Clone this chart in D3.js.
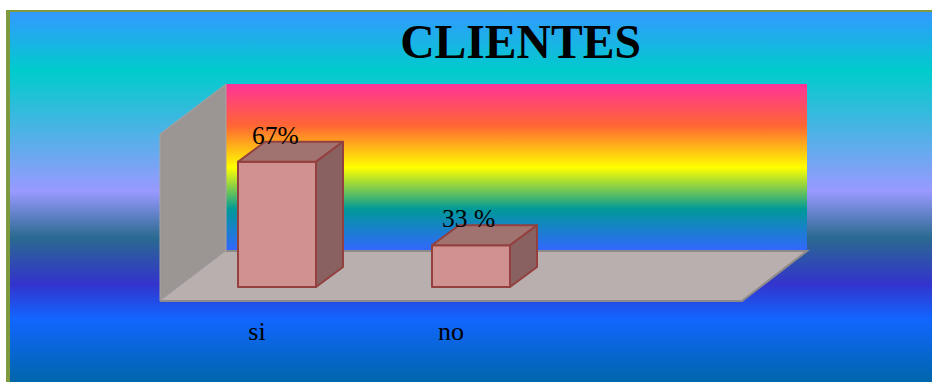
<!DOCTYPE html>
<html><head><meta charset="utf-8">
<script src="https://cdn.jsdelivr.net/npm/d3@7"></script>
<style>html,body{margin:0;padding:0;background:#fff;overflow:hidden}svg{display:block}text{font-family:"Liberation Serif",serif;fill:#000}</style>
</head><body><svg id="c" width="932" height="382"></svg>
<script>
const title = "CLIENTES";
const categories = ["si", "no", ""];
const values = [3, 1, null];
const dataLabels = ["67%", "33 %", ""];
const yDomain = [0, 4];
const bgStops = [[0,"#3399ff"],[0.16,"#00cccc"],[0.485,"#9999ff"],[0.61,"#2a6a90"],[0.735,"#3333cc"],[0.83,"#1166ff"],[1,"#0066aa"]];
const wallStops = [[0,"#ff3399"],[0.25,"#ff6633"],[0.5,"#ffff00"],[0.75,"#009999"],[1,"#3366ff"]];

const W = 932, H = 382;
const svg = d3.select("#c");
const defs = svg.append("defs");
function grad(id, stops){
  const g = defs.append("linearGradient").attr("id", id).attr("x1",0).attr("y1",0).attr("x2",0).attr("y2",1);
  stops.forEach(s => g.append("stop").attr("offset", s[0]).attr("stop-color", s[1]));
}
grad("bg", bgStops); grad("wall", wallStops);

// frame
svg.append("rect").attr("x",6).attr("y",10).attr("width",W-6).attr("height",H-10).attr("fill","#7f9a3c");
svg.append("rect").attr("x",10).attr("y",12).attr("width",W-10).attr("height",H-12).attr("fill","url(#bg)");

svg.append("text").attr("x",520.5).attr("y",58).attr("text-anchor","middle")
  .attr("font-size",47.6).attr("font-weight","bold").text(title);

// plot geometry (front plane, with a 3D depth offset)
const x = d3.scaleBand().domain(categories).range([160, 742]);
const y = d3.scaleLinear().domain(yDomain).range([301, 134]);
const dx = 66, dy = -50;          // depth of the plot box
const bx = 20, by = -14;          // front face of the bars sits inside the box
const bw = 78, bdx = 27, bdy = -20; // bar width and depth
const labelDx = [14, 10];         // data labels were placed by hand
const line = d3.line();
const poly = pts => line(pts) + "Z";

// back wall
svg.append("rect").attr("x",160+dx).attr("y",y(4)+dy).attr("width",581).attr("height",y(0)-y(4)).attr("fill","url(#wall)");
// side wall
svg.append("path").attr("d",poly([[160,y(4)],[160+dx,y(4)+dy],[160+dx,y(0)+dy],[160,y(0)]]))
  .attr("fill","#9b9593").attr("stroke","#a8a4a2").attr("stroke-width",1);
// floor
svg.append("path").attr("d",poly([[160,y(0)],[742,y(0)],[742+dx-1,y(0)+dy],[160+dx,y(0)+dy]]))
  .attr("fill","#b9afaf");
svg.append("path").attr("d",line([[160,y(0)],[742,y(0)],[742+dx-1,y(0)+dy],[160+dx,y(0)+dy]]))
  .attr("fill","none").attr("stroke","#8e8a8a").attr("stroke-width",2);

// bars
const bars = svg.append("g").selectAll("g")
  .data(categories.map((c,i)=>({c, v:values[i], l:dataLabels[i], i})).filter(d=>d.v!=null))
  .join("g");
const stroke = {stroke:"#93403e","stroke-width":2,"stroke-linejoin":"round"};
function face(sel, fill, pts){
  const p = sel.append("path").attr("fill",fill).attr("d",d=>poly(pts(d)));
  Object.entries(stroke).forEach(([k,v])=>p.attr(k,v));
}
const L = d => x(d.c)+(x.bandwidth()/2)-bw/2+bx, R = d => L(d)+bw;
const B = () => y(0)+by, T = d => y(d.v)+by;
face(bars,"#d09290",d=>[[L(d),T(d)],[R(d),T(d)],[R(d),B()],[L(d),B()]]);
face(bars,"#a07270",d=>[[L(d),T(d)],[L(d)+bdx,T(d)+bdy],[R(d)+bdx,T(d)+bdy],[R(d),T(d)]]);
face(bars,"#886160",d=>[[R(d),T(d)],[R(d)+bdx,T(d)+bdy],[R(d)+bdx,B()+bdy],[R(d),B()]]);
bars.append("text").attr("x",d=>L(d)+labelDx[d.i]).attr("y",d=>T(d)-18).attr("font-size",25.5).text(d=>d.l);

// category axis
const axis = d3.axisBottom(x).tickSize(0).tickPadding(21);
const ag = svg.append("g").attr("transform",`translate(0,${y(0)})`).call(axis);
ag.select(".domain").remove();
ag.selectAll("text").attr("font-size",26).attr("font-family",'"Liberation Serif",serif').attr("fill","#000");
</script></body></html>
